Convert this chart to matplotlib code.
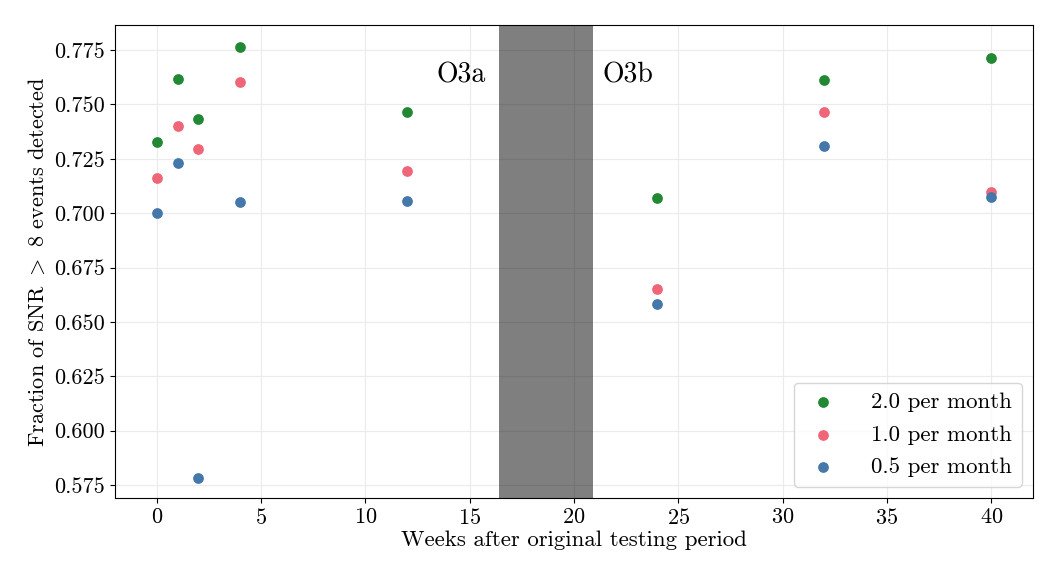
import matplotlib
matplotlib.use("Agg")
import matplotlib.pyplot as plt

plt.rcParams['font.family'] = ['cmr10']
plt.rcParams['mathtext.fontset'] = 'cm'
plt.rcParams['axes.formatter.use_mathtext'] = True

weeks = [0, 1, 2, 4, 12, 24, 32, 40]
rate_2_0 = [0.7327, 0.7617, 0.7433, 0.7764, 0.7465, 0.7070, 0.7612, 0.7713]
rate_1_0 = [0.7161, 0.7401, 0.7295, 0.7603, 0.7194, 0.6651, 0.7465, 0.7097]
rate_0_5 = [0.7001, 0.7230, 0.5782, 0.7051, 0.7056, 0.6582, 0.7309, 0.7074]
labels = ["2.0 per month", "1.0 per month", "0.5 per month"]
colors = ["#228833", "#EE6677", "#4477AA"]
gap_start, gap_end = 16.4, 20.9

fig = plt.figure(figsize=(10.6, 5.83), dpi=100)
ax = fig.add_axes([0.1085, 0.1458, 0.866, 0.8112])
ax.set_axisbelow(True)
ax.grid(True, color="#ebebeb", linewidth=0.8)

for vals, lab, c in zip([rate_2_0, rate_1_0, rate_0_5], labels, colors):
    ax.scatter(weeks, vals, s=45, color=c, label=lab, zorder=3)

ax.axvspan(gap_start, gap_end, color="black", alpha=0.5, lw=0, zorder=2)
ax.text(14.6, 0.7635, "O3a", fontsize=20, ha="center", va="center")
ax.text(22.6, 0.7635, "O3b", fontsize=20, ha="center", va="center")

ax.set_xlim(-2, 42)
ax.set_ylim(0.569, 0.7865)
ax.set_xticks(range(0, 41, 5))
ax.set_yticks([0.575, 0.6, 0.625, 0.65, 0.675, 0.7, 0.725, 0.75, 0.775])
ax.set_yticklabels(["0.575", "0.600", "0.625", "0.650", "0.675", "0.700", "0.725", "0.750", "0.775"])
ax.tick_params(labelsize=16)
ax.set_xlabel("Weeks after original testing period", fontsize=16.5, labelpad=2)
ax.set_ylabel(r"Fraction of SNR $>$ 8 events detected", fontsize=16, labelpad=5)
ax.legend(loc="lower right", fontsize=16.5, framealpha=0.8, handletextpad=1.2,
          handlelength=1.8, borderpad=0.4, labelspacing=0.55)
for s in ax.spines.values():
    s.set_linewidth(0.8)

fig.savefig("out.png", dpi=100)
